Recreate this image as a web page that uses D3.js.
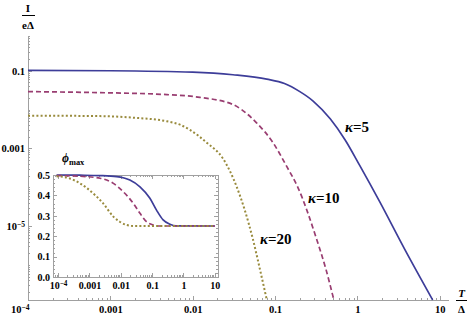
<!DOCTYPE html>
<html>
<head>
<meta charset="utf-8">
<script src="https://cdn.jsdelivr.net/npm/d3@7"></script>
<style>
body { margin: 0; background: #fff; }
svg text { font-family: "Liberation Serif", "Times New Roman", serif; font-weight: bold; fill: #000; }
.axis path, .axis line { stroke: #a0a0a0; shape-rendering: crispEdges; }
</style>
</head>
<body>
<div id="chart"></div>
<script>
// main plot: I/(eΔ) against T/Δ, one curve per kappa
var kappas = [5, 10, 20];
var t5  = [1e-4, 1e-3, 0.01, 0.0308, 0.0794, 0.13, 0.2, 0.29, 0.47, 0.71, 1.07, 1.87, 3.73, 8.2];
var i5  = [0.102, 0.100, 0.092, 0.079, 0.061, 0.047, 0.029, 0.0166, 0.0057, 0.00165, 3.6e-4, 4.2e-5, 2.6e-6, 1.26e-7];
var t10 = [1e-4, 7.5e-4, 0.00486, 0.0122, 0.0308, 0.0392, 0.0596, 0.094, 0.138, 0.189, 0.319, 0.414, 0.518];
var i10 = [0.029, 0.0273, 0.0243, 0.0207, 0.0135, 0.0100, 0.00457, 0.00143, 3.5e-4, 1.0e-4, 4.7e-6, 7.9e-7, 1.26e-7];
var t20 = [1e-4, 7.5e-4, 0.00188, 0.00486, 0.0072, 0.00925, 0.0148, 0.0233, 0.0341, 0.0537, 0.0654, 0.0794];
var i20 = [0.0070, 0.0068, 0.0062, 0.0050, 0.0040, 0.0030, 0.00141, 5.5e-4, 1.05e-4, 4.7e-6, 7.9e-7, 1.26e-7];

// inset: phi_max against T/Δ
var it5  = [9e-5, 5e-4, 0.0022, 0.0074, 0.0195, 0.041, 0.085, 0.138, 0.224, 0.37, 0.575, 10];
var phi5 = [0.5, 0.499, 0.497, 0.492, 0.475, 0.442, 0.386, 0.328, 0.280, 0.259, 0.251, 0.25];
var it10  = [9e-5, 5e-4, 0.0022, 0.0058, 0.012, 0.0251, 0.041, 0.066, 0.11, 0.178, 10];
var phi10 = [0.497, 0.494, 0.484, 0.459, 0.418, 0.361, 0.312, 0.271, 0.255, 0.25, 0.25];
var it20  = [9e-5, 2.4e-4, 5e-4, 0.00132, 0.00275, 0.0058, 0.0093, 0.0155, 0.025, 10];
var phi20 = [0.494, 0.483, 0.459, 0.410, 0.361, 0.296, 0.271, 0.255, 0.25, 0.25];

var xTicks = [1e-4, 1e-3, 0.01, 0.1, 1, 10];
var xTickLabels = ['10^-4', '0.001', '0.01', '0.1', '1', '10'];
var yTicks = [0.1, 0.001, 1e-5];
var yTickLabels = ['0.1', '0.001', '10^-5'];
var insetYTicks = [0, 0.1, 0.2, 0.3, 0.4, 0.5];
var insetYTickLabels = ['0.0', '0.1', '0.2', '0.3', '0.4', '0.5'];

var colors = ['#3d3d99', '#993d71', '#998b3d'];
var dashes = [null, '5,3', '2,2.2'];

var width = 467;
var height = 318;

var svg = d3.select('#chart')
.append('svg')
.attr('width', width)
.attr('height', height);

// labels like 10^-4 get a raised exponent
function superLabels(sel) {
    sel.selectAll('.tick text').each(function () {
        var s = d3.select(this).text();
        if (s.indexOf('^') < 0) return;
        var parts = s.split('^');
        var t = d3.select(this).text(parts[0]);
        t.append('tspan').attr('dy', '-0.45em').attr('font-size', '72%').text(parts[1].replace('-', '\u2212'));
    });
}

var x = d3.scaleLog().domain([1e-4, Math.pow(10, 1.1)]).range([28, 448]);
var y = d3.scaleLog().domain([Math.pow(10, -6.9), Math.pow(10, -0.08)]).range([300, 35]);

var xMinor = x.ticks().filter(function (d) { return xTicks.indexOf(d) < 0; });
var yMinor = y.ticks().filter(function (d) { return yTicks.indexOf(d) < 0; });

svg.append('g')
.attr('class', 'axis')
.attr('transform', 'translate(0,300)')
.call(d3.axisBottom(x).tickValues(xMinor).tickSize(-2).tickSizeOuter(0).tickFormat(''));

var gx = svg.append('g')
.attr('class', 'axis')
.attr('transform', 'translate(0,300)')
.call(d3.axisBottom(x).tickValues(xTicks).tickSize(-4).tickSizeOuter(0).tickPadding(6)
    .tickFormat(function (d, i) { return xTickLabels[i]; }));
gx.selectAll('text').attr('font-size', 10.5).attr('font-family', null);
superLabels(gx);
gx.selectAll('.tick text').filter(function (d) { return d === 1e-4; }).attr('text-anchor', 'end').attr('x', 1);

svg.append('g')
.attr('class', 'axis')
.attr('transform', 'translate(28,0)')
.call(d3.axisLeft(y).tickValues(yMinor).tickSize(-2).tickSizeOuter(0).tickFormat(''));

var gy = svg.append('g')
.attr('class', 'axis')
.attr('transform', 'translate(28,0)')
.call(d3.axisLeft(y).tickValues(yTicks).tickSize(-4).tickSizeOuter(0).tickPadding(3)
    .tickFormat(function (d, i) { return yTickLabels[i]; }));
gy.selectAll('text').attr('font-size', 10.5).attr('font-family', null);
superLabels(gy);

svg.append('clipPath').attr('id', 'mainClip')
.append('rect').attr('x', 28).attr('y', 0).attr('width', 425).attr('height', 301);

var line = d3.line()
.x(function (d) { return x(d[0]); })
.y(function (d) { return y(d[1]); })
.curve(d3.curveMonotoneX);

var mainSeries = [d3.zip(t5, i5), d3.zip(t10, i10), d3.zip(t20, i20)];

svg.append('g')
.attr('clip-path', 'url(#mainClip)')
.selectAll('path')
.data(mainSeries)
.enter()
.append('path')
.attr('d', line)
.attr('fill', 'none')
.attr('stroke', function (d, i) { return colors[i]; })
.attr('stroke-width', function (d, i) { return i == 2 ? 2 : 1.7; })
.attr('stroke-dasharray', function (d, i) { return dashes[i]; });

// kappa labels
var kappaPos = [[345, 132], [308, 203], [260, 244]];
kappas.forEach(function (k, i) {
    var t = svg.append('text')
    .attr('x', kappaPos[i][0])
    .attr('y', kappaPos[i][1])
    .attr('font-size', 15);
    t.append('tspan').attr('font-style', 'italic').text('\u03ba');
    t.append('tspan').text('=' + k);
});

// axis titles
svg.append('text').attr('x', 28).attr('y', 12).attr('text-anchor', 'middle').attr('font-size', 11).text('I');
svg.append('line').attr('x1', 22).attr('x2', 35).attr('y1', 15.5).attr('y2', 15.5).attr('stroke', '#000');
svg.append('text').attr('x', 28).attr('y', 29).attr('text-anchor', 'middle').attr('font-size', 11).text('e\u0394');

svg.append('text').attr('x', 461.5).attr('y', 297).attr('text-anchor', 'middle').attr('font-size', 11)
.attr('font-style', 'italic').text('T');
svg.append('line').attr('x1', 456).attr('x2', 467).attr('y1', 300.5).attr('y2', 300.5).attr('stroke', '#000');
svg.append('text').attr('x', 461.5).attr('y', 313).attr('text-anchor', 'middle').attr('font-size', 11).text('\u0394');

// inset
var xi = d3.scaleLog().domain([Math.pow(10, -4.16), Math.pow(10, 1.1)]).range([53, 218]);
var yi = d3.scaleLinear().domain([0, 0.5]).range([277, 175]);

var inset = svg.append('g');
inset.append('rect')
.attr('x', 53).attr('y', 175).attr('width', 165).attr('height', 102)
.attr('fill', '#fff');

var xiMinor = xi.ticks().filter(function (d) { return xTicks.indexOf(d) < 0; });
var yiMinor = d3.range(0, 0.501, 0.02).filter(function (d) { return Math.abs(d * 10 - Math.round(d * 10)) > 1e-6; });

[[d3.axisBottom, 277], [d3.axisTop, 175]].forEach(function (a) {
    inset.append('g').attr('class', 'axis').attr('transform', 'translate(0,' + a[1] + ')')
    .call(a[0](xi).tickValues(xiMinor).tickSize(-2).tickSizeOuter(0).tickFormat(''));
    inset.append('g').attr('class', 'axis').attr('transform', 'translate(0,' + a[1] + ')')
    .call(a[0](xi).tickValues(xTicks).tickSize(-4).tickSizeOuter(0).tickFormat(''));
});
[[d3.axisLeft, 53], [d3.axisRight, 218]].forEach(function (a) {
    inset.append('g').attr('class', 'axis').attr('transform', 'translate(' + a[1] + ',0)')
    .call(a[0](yi).tickValues(yiMinor).tickSize(-2).tickSizeOuter(0).tickFormat(''));
    inset.append('g').attr('class', 'axis').attr('transform', 'translate(' + a[1] + ',0)')
    .call(a[0](yi).tickValues(insetYTicks).tickSize(-4).tickSizeOuter(0).tickFormat(''));
});

var gxi = inset.append('g')
.attr('class', 'axis')
.attr('transform', 'translate(0,277)')
.call(d3.axisBottom(xi).tickValues(xTicks).tickSize(0).tickSizeOuter(0).tickPadding(5)
    .tickFormat(function (d, i) { return xTickLabels[i]; }));
gxi.select('.domain').remove();
gxi.selectAll('text').attr('font-size', 10).attr('font-family', null);
superLabels(gxi);

var gyi = inset.append('g')
.attr('class', 'axis')
.attr('transform', 'translate(53,0)')
.call(d3.axisLeft(yi).tickValues(insetYTicks).tickSize(0).tickSizeOuter(0).tickPadding(3)
    .tickFormat(function (d, i) { return insetYTickLabels[i]; }));
gyi.select('.domain').remove();
gyi.selectAll('text').attr('font-size', 10).attr('font-family', null);

svg.append('clipPath').attr('id', 'insetClip')
.append('rect').attr('x', 53).attr('y', 173).attr('width', 165).attr('height', 104);

var lineInset = d3.line()
.x(function (d) { return xi(d[0]); })
.y(function (d) { return yi(d[1]); })
.curve(d3.curveMonotoneX);

var insetSeries = [d3.zip(it5, phi5), d3.zip(it10, phi10), d3.zip(it20, phi20)];

inset.append('g')
.attr('clip-path', 'url(#insetClip)')
.selectAll('path')
.data(insetSeries)
.enter()
.append('path')
.attr('d', lineInset)
.attr('fill', 'none')
.attr('stroke', function (d, i) { return colors[i]; })
.attr('stroke-width', function (d, i) { return i == 2 ? 2 : 1.7; })
.attr('stroke-dasharray', function (d, i) { return dashes[i]; });

var phiLabel = inset.append('text').attr('x', 62).attr('y', 162).attr('font-size', 12);
phiLabel.append('tspan').attr('font-style', 'italic').text('\u03d5');
phiLabel.append('tspan').attr('dy', '0.3em').attr('font-size', '70%').text('max');
</script>
</body>
</html>
